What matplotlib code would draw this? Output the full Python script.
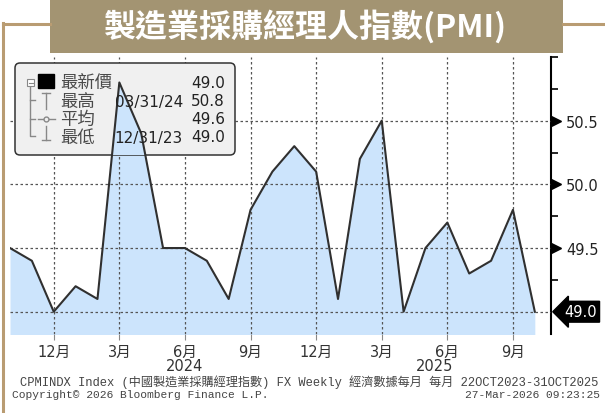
import numpy as np
import pandas as pd
import matplotlib
matplotlib.use("Agg")
import matplotlib.pyplot as plt
from matplotlib.patches import Rectangle, FancyBboxPatch
from matplotlib.lines import Line2D
from matplotlib.transforms import Affine2D
from matplotlib.ticker import FixedLocator, MultipleLocator

# data: China official manufacturing PMI, monthly
months = pd.date_range("2023-10-01", periods=25, freq="MS")
pmi = [49.5, 49.4, 49.0, 49.2, 49.1, 50.8, 50.4, 49.5, 49.5, 49.4, 49.1, 49.8,
       50.1, 50.3, 50.1, 49.1, 50.2, 50.5, 49.0, 49.5, 49.7, 49.3, 49.4, 49.8, 49.0]
ytick_vals = [49.0, 49.5, 50.0, 50.5]
title = "製造業採購經理人指數(PMI)"
stat_names = ["最新價", "最高", "平均", "最低"]
footer1 = "CPMINDX Index (中國製造業採購經理指數) FX Weekly 經濟數據每月 每月 22OCT2023-31OCT2025"
footer2_left = "Copyright© 2026 Bloomberg Finance L.P."
footer2_right = "27-Mar-2026 09:23:25"

W, H, DPI = 605, 414, 100
BROWN = "#a39472"
LINE_BROWN = "#b99c72"
FILL = "#cce4fc"
CJK = ["DejaVu Sans", "Noto Sans CJK TC"]

fig = plt.figure(figsize=(W / DPI, H / DPI), dpi=DPI)
# pixel coordinates, origin top-left
px = Affine2D().scale(1 / DPI, -1 / DPI).translate(0, H / DPI) + fig.dpi_scale_trans

ax = fig.add_axes([10 / W, 1 - 335 / H, 541 / W, 277 / H])
x = np.arange(len(pmi))
ax.fill_between(x, pmi, 48.0, color=FILL, lw=0, zorder=1)
ax.plot(x, pmi, color="#303030", lw=1.5, zorder=3)
ax.set_xlim(0, 24.74)
ax.set_ylim(48.825, 51.0)

for s in ["left", "top", "bottom"]:
    ax.spines[s].set_visible(False)
ax.spines["right"].set_linewidth(1.5)
ax.spines["right"].set_color("black")

# y axis on the right
ax.yaxis.tick_right()
ax.yaxis.set_major_locator(FixedLocator(ytick_vals))
ax.yaxis.set_minor_locator(MultipleLocator(0.25))
ax.set_yticklabels(["" if v == pmi[-1] else f"{v:.1f}" for v in ytick_vals])
ax.tick_params(axis="y", which="major", length=0, pad=11, labelsize=10.5, labelcolor="#222222")
ax.tick_params(axis="y", which="minor", length=5, width=1.2, color="black", direction="out")
for v in ytick_vals:
    if v != pmi[-1]:
        ax.plot([1.0095], [v], marker=">", ms=7, color="black", transform=ax.get_yaxis_transform(),
                clip_on=False, zorder=5)

# x axis ticks on quarter months
qpos = [i for i, m in enumerate(months) if m.month in (3, 6, 9, 12)]
ax.set_xticks(qpos)
ax.set_xticklabels([f"{months[i].month}月" for i in qpos], family=CJK)
ax.tick_params(axis="x", length=4, color="#888888", labelsize=10.5, labelcolor="#333333", pad=3)
for yr, xc in ((2024, 8), (2025, 19.4)):
    ax.text(xc, -0.112, str(yr), transform=ax.get_xaxis_transform(), ha="center", va="center",
            fontsize=10.5, color="#333333")

ax.set_axisbelow(False)
ax.grid(True, which="major", color="#555555", linestyle=(0, (2, 2)), linewidth=0.9)

# last value box
ax.text(1.0 + 13 / 541, pmi[-1], f"{pmi[-1]:.1f}", transform=ax.get_yaxis_transform(),
        ha="left", va="center", fontsize=10.5, color="white", zorder=6, clip_on=False,
        bbox=dict(boxstyle="larrow,pad=0.2", fc="black", ec="black"))

# stats box
box = FancyBboxPatch((15, 64), 220, 92, boxstyle="round,pad=0,rounding_size=5",
                     transform=px, fc="#f0f0f0", ec="#333333", lw=1.1, zorder=2.6, clip_on=False)
ax.add_patch(box)
fill2 = ax.fill_between(x, pmi, 48.0, color=FILL, lw=0, zorder=2.7)
fill2.set_clip_path(box)

imax = int(np.argmax(pmi))
imin = int(np.argmin(pmi))
end = lambda i: (months[i] + pd.offsets.MonthEnd(0)).strftime("%m/%d/%y")
rows_y = [83, 102, 120, 138]
dates = ["", end(imax), "", end(imin)]
vals = [pmi[-1], max(pmi), np.mean(pmi), min(pmi)]
for yy, name, d, v in zip(rows_y, stat_names, dates, vals):
    ax.text(60, yy, name, transform=px, family="Noto Sans CJK TC", fontsize=12.5,
            color="#4a4a4a", va="center", ha="left", zorder=6, clip_on=False)
    if d:
        ax.text(183, yy, d, transform=px, fontsize=11, color="#222222",
                va="center", ha="right", zorder=6, clip_on=False)
    ax.text(225, yy, f"{v:.1f}", transform=px, fontsize=11, color="#222222",
            va="center", ha="right", zorder=6, clip_on=False)

gray = "#888888"
sym = [
    ([30, 30, 35], [87, 137, 137]),
    ([30, 35], [101, 101]),
    ([30, 35], [120, 120]),
    ([46, 46], [94, 110]), ([42, 50], [94, 94]),
    ([38, 55], [120, 120]),
    ([46, 46], [127, 141]), ([42, 50], [141, 141]),
]
for xs, ys in sym:
    ax.add_line(Line2D(xs, ys, transform=px, color=gray, lw=1, zorder=6, clip_on=False))
ax.add_patch(Rectangle((27, 80), 7, 7, transform=px, fc="white", ec=gray, lw=0.8, zorder=6, clip_on=False))
ax.add_line(Line2D([28.5, 32.5], [83.5, 83.5], transform=px, color=gray, lw=0.8, zorder=7, clip_on=False))
ax.add_patch(Rectangle((38, 75), 16, 14, transform=px, fc="black", ec="black", zorder=6, clip_on=False))
ax.add_line(Line2D([46], [120], transform=px, marker="o", ms=3.5, mfc="#f0f0f0", mec=gray,
                   zorder=7, clip_on=False))

# title banner and frame
fig.add_artist(Line2D([3, 50], [25, 25], transform=px, color=LINE_BROWN, lw=2.2))
fig.add_artist(Line2D([563, 605], [25, 25], transform=px, color=LINE_BROWN, lw=2.2))
fig.add_artist(Line2D([3, 3], [24, 414], transform=px, color=LINE_BROWN, lw=2.2))
fig.add_artist(Rectangle((50, 0), 513, 54, transform=px, fc=BROWN, ec="none"))
fig.text(306, 27, title, transform=px, ha="center", va="center", color="white",
         family=["Noto Sans CJK TC", "DejaVu Sans"], fontweight="bold", fontsize=23)

# footer
FOOT = ["Liberation Mono", "Noto Sans CJK TC"]
fig.text(20, 382, footer1, transform=px, ha="left", va="center", family=FOOT, fontsize=8.75, color="#444444")
fig.text(12, 395, footer2_left, transform=px, ha="left", va="center", family=FOOT, fontsize=8.1, color="#444444")
fig.text(600, 395, footer2_right, transform=px, ha="right", va="center", family=FOOT, fontsize=8.1, color="#444444")

fig.savefig("out.png", dpi=DPI)
